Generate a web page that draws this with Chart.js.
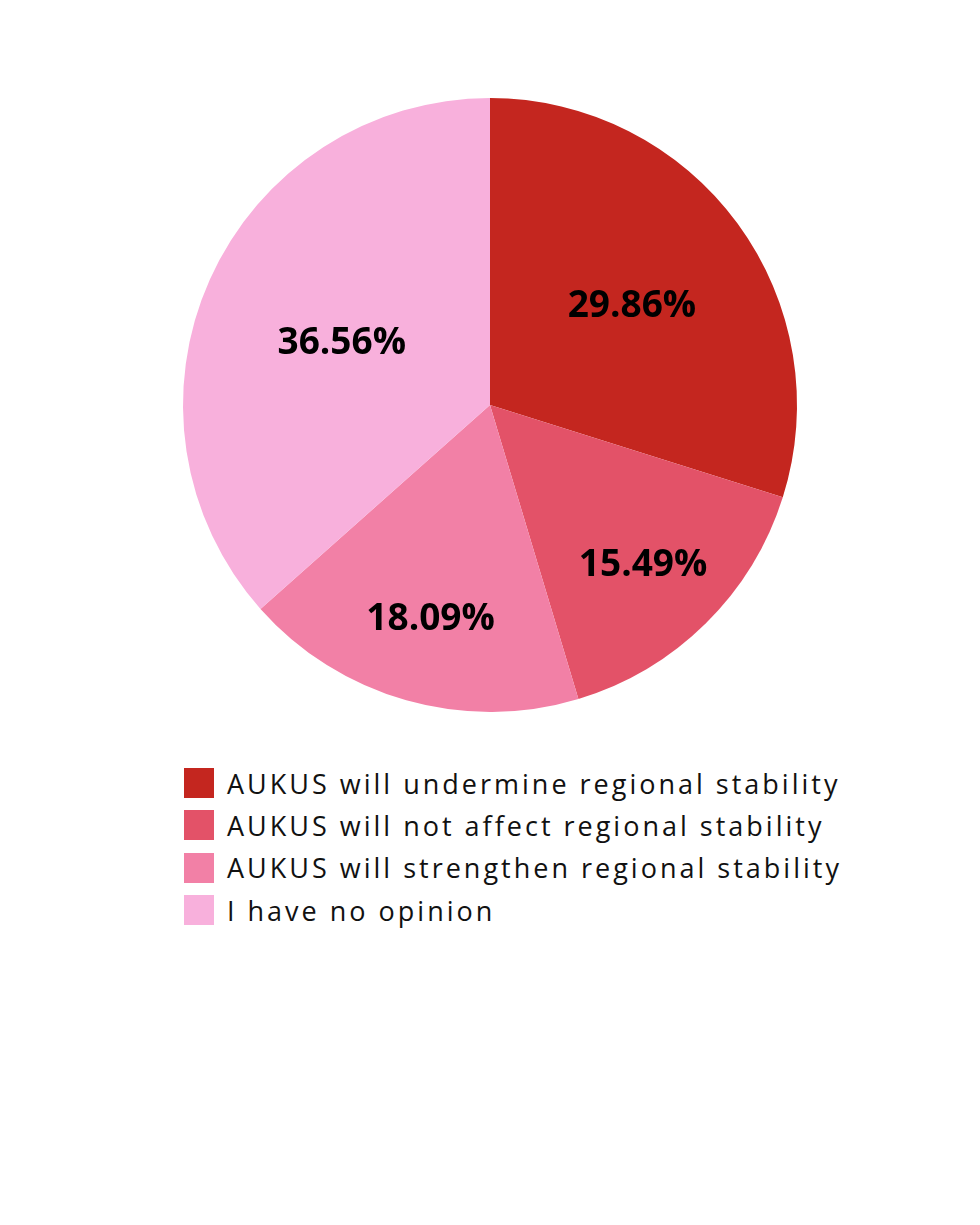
<!DOCTYPE html>
<html>
<head>
<meta charset="utf-8">
<script src="https://cdn.jsdelivr.net/npm/chart.js@4"></script>
<style>
    body { margin: 0; background: #fff; font-family: "Open Sans", sans-serif; }
    #wrap { width: 980px; height: 762px; position: relative; }
    #legend { list-style: none; margin: 0; padding: 0 0 0 184px; }
    #legend li { display: flex; align-items: center; height: 42.3px; font-size: 27px; letter-spacing: 3px; color: #111; }
    #legend .box { width: 30px; height: 30px; margin-right: 13px; flex: none; }
</style>
</head>
<body>
<div id="wrap"><canvas id="pieChart"></canvas></div>
<ul id="legend"></ul>
<script>
const categories = [
    "AUKUS will undermine regional stability",
    "AUKUS will not affect regional stability",
    "AUKUS will strengthen regional stability",
    "I have no opinion"
];
const shares = [29.86, 15.49, 18.09, 36.56];
const sliceColors = ["#c4261f", "#e35268", "#f280a6", "#f8b0dc"];

document.addEventListener("DOMContentLoaded", function () {
    // draws the percentage inside each slice: wide slices at their centroid,
    // narrow ones further out toward the rim
    const sliceLabels = {
        id: "sliceLabels",
        afterDatasetsDraw(chart) {
            const ctx = chart.ctx;
            const meta = chart.getDatasetMeta(0);
            ctx.save();
            ctx.font = "bold 37px 'Open Sans'";
            ctx.fillStyle = "#000";
            ctx.textAlign = "center";
            ctx.textBaseline = "middle";
            meta.data.forEach((arc, i) => {
                const span = arc.endAngle - arc.startAngle;
                const mid = (arc.startAngle + arc.endAngle) / 2;
                const centroid = 4 * arc.outerRadius * Math.sin(span / 2) / (3 * span);
                const r = span > Math.PI / 2 ? centroid : arc.outerRadius * 0.71;
                const x = arc.x + Math.cos(mid) * r;
                const y = arc.y + Math.sin(mid) * r + 5;
                ctx.fillText(shares[i].toFixed(2) + "%", x, y);
            });
            ctx.restore();
        }
    };

    new Chart(document.getElementById("pieChart"), {
        type: "pie",
        data: {
            labels: categories,
            datasets: [{
                data: shares,
                backgroundColor: sliceColors,
                borderWidth: 0
            }]
        },
        options: {
            responsive: true,
            maintainAspectRatio: false,
            animation: false,
            layout: { padding: { top: 98, bottom: 50 } },
            plugins: {
                legend: { display: false },
                tooltip: { enabled: false }
            }
        },
        plugins: [sliceLabels]
    });

    // simple legend below the pie
    const legend = document.getElementById("legend");
    categories.forEach((name, i) => {
        const li = document.createElement("li");
        const box = document.createElement("span");
        box.className = "box";
        box.style.background = sliceColors[i];
        li.appendChild(box);
        li.appendChild(document.createTextNode(name));
        legend.appendChild(li);
    });
});
</script>
</body>
</html>
